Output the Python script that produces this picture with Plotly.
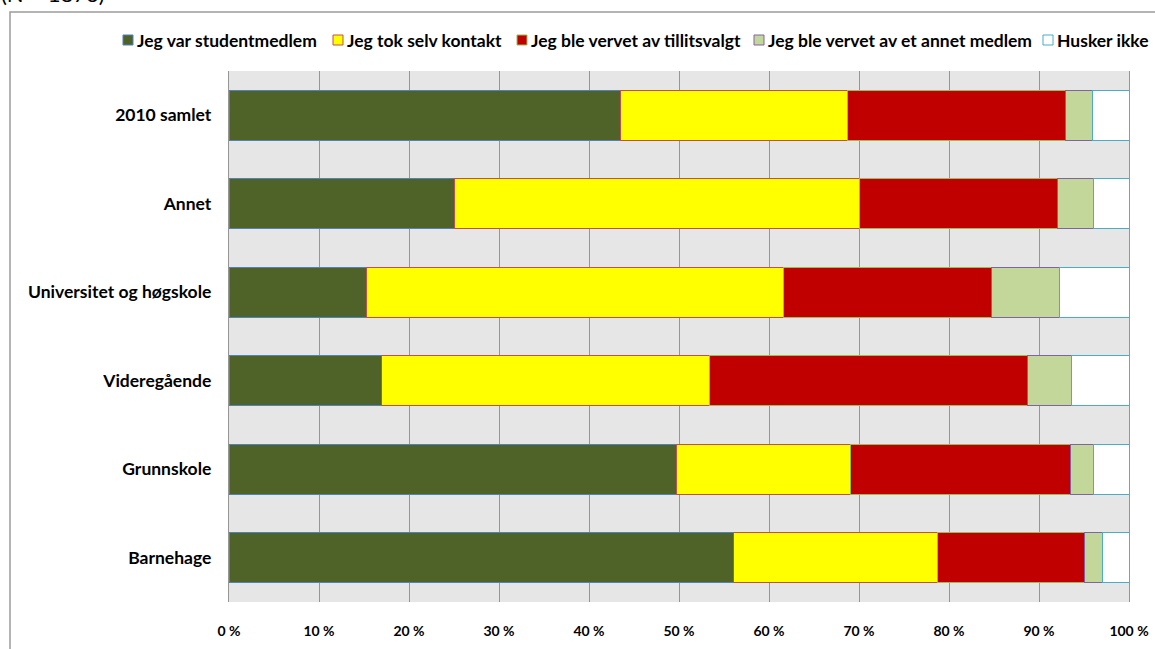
import plotly.graph_objects as go

# Survey: how members were recruited, by workplace type (share of respondents, %)
categories = ["2010 samlet", "Annet", "Universitet og høgskole",
              "Videregående", "Grunnskole", "Barnehage"]

series_names = ["Jeg var studentmedlem", "Jeg tok selv kontakt",
                "Jeg ble vervet av tillitsvalgt", "Jeg ble vervet av et annet medlem",
                "Husker ikke"]

studentmedlem = [43.5, 25.0, 15.3, 16.9, 49.7, 56.1]
selv_kontakt = [25.2, 45.0, 46.3, 36.5, 19.3, 22.6]
tillitsvalgt = [24.2, 22.1, 23.1, 35.3, 24.5, 16.3]
annet_medlem = [3.0, 3.9, 7.6, 4.9, 2.6, 2.1]
husker_ikke = [4.1, 4.0, 7.7, 6.4, 3.9, 2.9]

tick_values = [0, 10, 20, 30, 40, 50, 60, 70, 80, 90, 100]
tick_labels = ["0 %", "10 %", "20 %", "30 %", "40 %", "50 %",
               "60 %", "70 %", "80 %", "90 %", "100 %"]

fill_colors = ["#4F6228", "#FFFF00", "#C00000", "#C4D79B", "#FFFFFF"]
edge_colors = ["#4F81BD", "#C0504D", "#9BBB59", "#8064A2", "#4BACC6"]

FONT = "Lato"
W, H = 1155, 649
ML, MR, MT, MB = 229, 26, 71, 47
PW, PH = W - ML - MR, H - MT - MB


def px_x(x):
    return (x - ML) / PW


def px_y(y):
    return (H - MB - y) / PH


fig = go.Figure()
for name, vals, fc, ec in zip(series_names,
                              [studentmedlem, selv_kontakt, tillitsvalgt, annet_medlem, husker_ikke],
                              fill_colors, edge_colors):
    fig.add_trace(go.Bar(
        y=categories, x=vals, name=name, orientation="h",
        marker=dict(color=fc, line=dict(color=ec, width=1)),
        showlegend=False,
    ))

shapes = []
annotations = []

# Outer chart frame
shapes.append(dict(type="rect", xref="paper", yref="paper",
                   x0=px_x(10), x1=px_x(1170), y0=px_y(665), y1=px_y(12),
                   line=dict(color="#9C9C9C", width=1.5), fillcolor="rgba(0,0,0,0)",
                   layer="below"))

# Legend row drawn across the top
legend_x = [123, 333, 517, 754, 1043]
for x0, name, fc, ec in zip(legend_x, series_names, fill_colors, edge_colors):
    shapes.append(dict(type="rect", xref="paper", yref="paper",
                       x0=px_x(x0), x1=px_x(x0 + 10), y0=px_y(45), y1=px_y(35),
                       fillcolor=fc, line=dict(color=ec, width=1)))
    annotations.append(dict(xref="paper", yref="paper", x=px_x(x0 + 12), y=px_y(40),
                            xanchor="left", yanchor="middle", showarrow=False,
                            text="<b>%s</b>" % name,
                            font=dict(family=FONT, size=17.5, color="#000000")))

# Sample size note at the top-left corner
annotations.append(dict(xref="paper", yref="paper", x=px_x(-1), y=px_y(9),
                        xanchor="left", yanchor="bottom", showarrow=False,
                        text="(N = 1876)",
                        font=dict(family=FONT, size=22, color="#000000")))

fig.update_layout(
    width=W, height=H,
    barmode="stack", bargap=0.435,
    paper_bgcolor="#FFFFFF", plot_bgcolor="#E6E6E6",
    margin=dict(l=ML, r=MR, t=MT, b=MB, pad=0, autoexpand=False),
    shapes=shapes, annotations=annotations,
    font=dict(family=FONT, color="#000000"),
    xaxis=dict(range=[0, 100], tickvals=tick_values, ticktext=tick_labels,
               showgrid=True, gridcolor="#969696", gridwidth=1.3,
               zeroline=False, showline=False, ticks="",
               ticklabelstandoff=19, automargin=False, ticklabeloverflow="allow",
               tickfont=dict(family=FONT, size=14, color="#000000", weight="bold")),
    yaxis=dict(autorange="reversed", showgrid=False, zeroline=False,
               showline=True, mirror=True, linecolor="#969696", linewidth=1.3,
               ticks="", ticklabelstandoff=13, automargin=False,
               tickfont=dict(family=FONT, size=17.5, color="#000000", weight="bold")),
)

fig.write_html("out.html")
